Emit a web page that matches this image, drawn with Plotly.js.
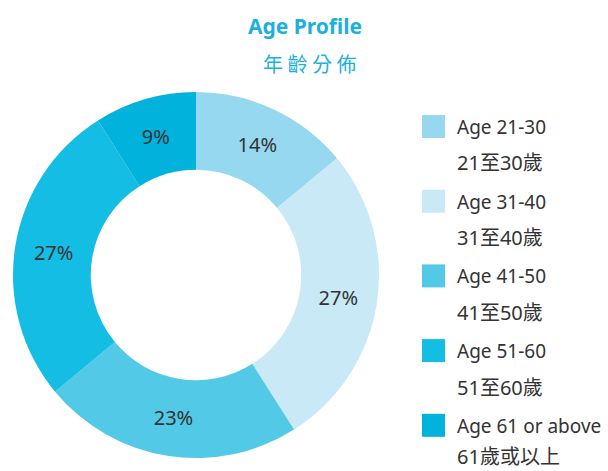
<!DOCTYPE html>
<html>
<head>
<meta charset="utf-8">
<script src="https://cdn.plot.ly/plotly-3.0.1.min.js"></script>
<style>html,body{margin:0;padding:0;background:#fff}#chart{width:608px;height:471px}</style>
</head>
<body>
<div id="chart"></div>
<script>
var labelsEn = ["Age 21-30", "Age 31-40", "Age 41-50", "Age 51-60", "Age 61 or above"];
var labelsZh = ["21至30歲", "31至40歲", "41至50歲", "51至60歲", "61歲或以上"];
var values = [14, 27, 23, 27, 9];
var colors = ["#96d8ef", "#c9e9f6", "#52c9e6", "#13bde3", "#00b2dc"];

var titleColor = "#1db0dd";
var textColor = "#333333";
var fontFam = "'Noto Sans', 'Noto Sans CJK TC', sans-serif";

var trace = {
  type: "pie",
  labels: labelsEn,
  values: values,
  sort: false,
  direction: "clockwise",
  rotation: 0,
  hole: 0.575,
  marker: {colors: colors, line: {width: 0}},
  texttemplate: "%{value}%",
  textposition: "inside",
  insidetextorientation: "horizontal",
  textfont: {family: fontFam, size: 20, color: textColor},
  domain: {x: [13/608, 379/608], y: [1 - 458/471, 1 - 92/471]},
  showlegend: false,
  hoverinfo: "label+percent"
};

var annotations = [{
  xref: "paper", yref: "paper", x: 310/608, y: 1 - 64/471,
  xanchor: "center", yanchor: "middle", showarrow: false,
  text: "年 齡 分 佈",
  font: {family: "'Noto Sans CJK TC', sans-serif", size: 20, color: titleColor}
}];
var shapes = [];
var sq0 = 115, step = 74.7, sqSize = 23;
for (var i = 0; i < labelsEn.length; i++) {
  var itemTop = sq0 + i * step;
  shapes.push({
    type: "rect", xref: "paper", yref: "paper",
    x0: 422/608, x1: (422 + sqSize)/608,
    y0: 1 - (itemTop + sqSize)/471, y1: 1 - itemTop/471,
    fillcolor: colors[i], line: {width: 0}
  });
  annotations.push({
    xref: "paper", yref: "paper", x: 455/608, y: 1 - (itemTop + 12)/471,
    xanchor: "left", yanchor: "middle", showarrow: false,
    text: labelsEn[i], font: {family: fontFam, size: 19, color: textColor}
  });
  annotations.push({
    xref: "paper", yref: "paper", x: 455/608, y: 1 - Math.min(itemTop + 48, 456)/471,
    xanchor: "left", yanchor: "middle", showarrow: false,
    text: labelsZh[i], font: {family: fontFam, size: 20, color: textColor}
  });
}

var layout = {
  width: 608, height: 471,
  margin: {l: 0, r: 0, t: 0, b: 0},
  paper_bgcolor: "#ffffff",
  title: {
    text: "<b>Age Profile</b>",
    x: 305/608, xanchor: "center",
    y: 1 - 27/471, yanchor: "middle",
    font: {family: fontFam, size: 21, color: titleColor}
  },
  annotations: annotations,
  shapes: shapes,
  showlegend: false
};

Plotly.newPlot("chart", [trace], layout, {displayModeBar: false, staticPlot: true});
</script>
</body>
</html>
